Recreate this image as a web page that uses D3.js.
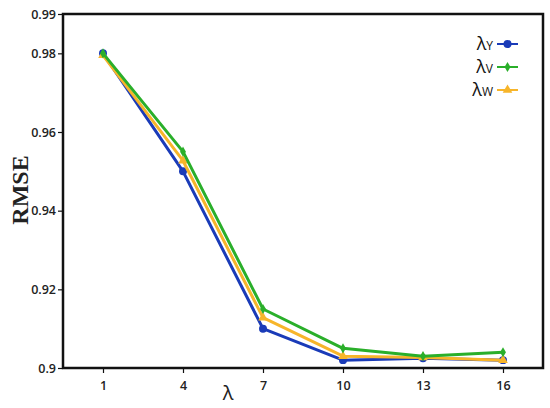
<!DOCTYPE html>
<html><head><meta charset="utf-8">
<script src="https://cdn.jsdelivr.net/npm/d3@7"></script>
<style>body{margin:0;background:#fff}svg{display:block}</style>
</head><body>
<svg id="c" width="550" height="408"></svg>
<script>
const categories = ["1","4","7","10","13","16"];
const seriesY = [0.980, 0.950, 0.910, 0.902, 0.9025, 0.902];
const seriesV = [0.980, 0.955, 0.915, 0.905, 0.903, 0.904];
const seriesW = [0.9795, 0.9527, 0.9128, 0.903, 0.9027, 0.902];
const yTicks = [0.9, 0.92, 0.94, 0.96, 0.98, 0.99];
const seriesNames = ["Y", "V", "W"];

const svg = d3.select("#c");
const m = {l:63, r:543, t:14, b:368};
const x = d3.scalePoint().domain(categories).range([m.l, m.r]).padding(0.5);
const y = d3.scaleLinear().domain([0.9, 0.99]).range([m.b, m.t]);

const series = [
  {name: seriesNames[0], vals: seriesY, color: "#1a3bb8", shape: d3.symbolCircle, size: 50},
  {name: seriesNames[1], vals: seriesV, color: "#2aaf2a", shape: d3.symbolDiamond, size: 30},
  {name: seriesNames[2], vals: seriesW, color: "#f7b52a", shape: d3.symbolTriangle, size: 40}
];

const yAxis = svg.append("g").attr("transform", `translate(${m.l},0)`)
  .call(d3.axisLeft(y).tickValues(yTicks).tickFormat(d => String(+d.toFixed(2))).tickSize(5).tickPadding(2).tickSizeOuter(0));
const xAxis = svg.append("g").attr("transform", `translate(0,${m.b})`)
  .call(d3.axisBottom(x).tickSize(5).tickSizeOuter(0));
[yAxis, xAxis].forEach(g => {
  g.select(".domain").remove();
  g.selectAll("line").attr("stroke", "#111").attr("stroke-width", 1.2);
  g.selectAll("text").attr("font-family", "Open Sans, sans-serif").attr("font-size", 12.5)
    .attr("font-weight", 600).attr("fill", "#222");
});
xAxis.selectAll("text").attr("dy", "1.1em");

svg.append("rect").attr("x", m.l).attr("y", m.t).attr("width", m.r - m.l).attr("height", m.b - m.t)
  .attr("fill", "none").attr("stroke", "#111").attr("stroke-width", 2.5);

const line = d3.line().x((d,i) => x(categories[i])).y(d => y(d));
const order = [series[0], series[2], series[1]];
order.forEach(s => {
  svg.append("path").datum(s.vals).attr("d", line).attr("fill", "none")
    .attr("stroke", s.color).attr("stroke-width", 3).attr("stroke-linejoin", "round");
  svg.selectAll(null).data(s.vals).enter().append("path")
    .attr("d", d3.symbol().type(s.shape).size(s.size))
    .attr("transform", (d,i) => `translate(${x(categories[i])},${y(d)})`)
    .attr("fill", s.color);
});

svg.append("text").attr("transform", "translate(28,190) rotate(-90)").attr("text-anchor", "middle")
  .attr("font-family", "Liberation Serif, serif").attr("font-weight", "bold").attr("font-size", 24)
  .attr("fill", "#222").text("RMSE");
svg.append("text").attr("x", 228).attr("y", 400).attr("text-anchor", "middle")
  .attr("font-family", "Open Sans, sans-serif").attr("font-size", 20).attr("fill", "#222").text("λ");

series.forEach((s, i) => {
  const yy = 44 + i * 23;
  const t = svg.append("text").attr("x", 493).attr("y", yy + 6).attr("text-anchor", "end")
    .attr("font-family", "Open Sans, sans-serif").attr("fill", "#111");
  t.append("tspan").attr("font-size", 18).text("λ");
  t.append("tspan").attr("font-size", 12).text(s.name);
  svg.append("line").attr("x1", 497).attr("x2", 518).attr("y1", yy).attr("y2", yy)
    .attr("stroke", s.color).attr("stroke-width", 2);
  svg.append("path").attr("d", d3.symbol().type(s.shape).size(s.size))
    .attr("transform", `translate(507.5,${yy})`).attr("fill", s.color);
});
</script>
</body></html>
